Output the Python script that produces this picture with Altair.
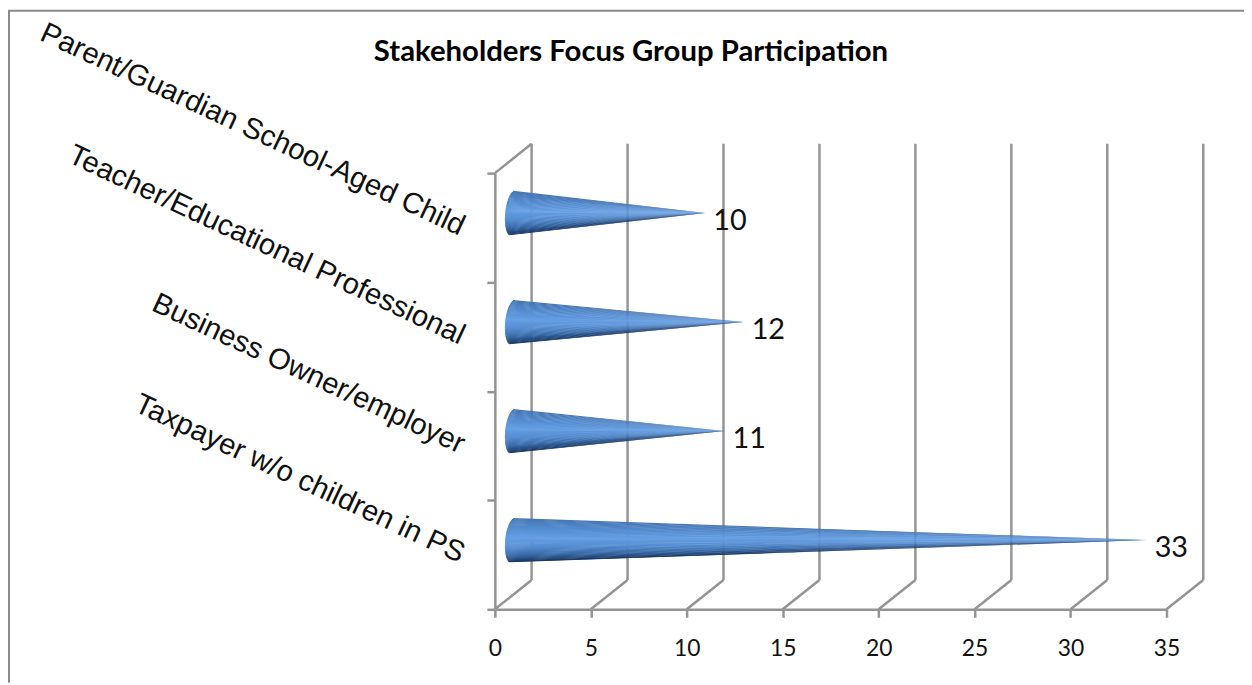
import altair as alt
import pandas as pd

title = "Stakeholders Focus Group Participation"
categories = ["Parent/Guardian School-Aged Child", "Teacher/Educational Professional",
              "Business Owner/employer", "Taxpayer w/o children in PS"]
values = [10, 12, 11, 33]
ticks = [0, 5, 10, 15, 20, 25, 30, 35]
bands = [0, 1, 2, 3, 4]

W, H = 676, 439
PAD_L, PAD_T = 490, 164
TOTAL_W, TOTAL_H = 1244, 677
UX = W / 35
UY = H / 4
DEPTH_X = 37 / UX
DEPTH_Y = 29.5 / UY
CONE_X = DEPTH_X / 2
CONE_Y = DEPTH_Y / 2
GREY = "#949494"

shade = [(-1.0, (70, 118, 178)), (-0.6, (82, 138, 206)), (-0.1, (100, 158, 228)),
         (0.3, (86, 142, 210)), (0.65, (60, 110, 172)), (0.9, (34, 72, 122)), (1.0, (24, 50, 88))]


def colour(f):
    for (a, ca), (b, cb) in zip(shade, shade[1:]):
        if a <= f <= b:
            t = (f - a) / (b - a)
            return "#%02x%02x%02x" % tuple(round(p + (q - p) * t) for p, q in zip(ca, cb))
    return "#18325a"


N = 44
half = 22.3 / UY
rows = []
for i, (cat, v) in enumerate(zip(categories, values)):
    c = 4 - i - 0.5 + CONE_Y
    tip = v + CONE_X
    for k in range(N):
        f1, f2 = -1 + 2 * k / N, -1 + 2 * (k + 1.6) / N
        f2 = min(f2, 1)
        fm = -1 + 2 * (k + 0.5) / N
        start = CONE_X + (-0.5 - 2 * fm - 7.6 * (1 - fm * fm) ** 0.5) / UX
        wid = f"{i}-{k:02d}"
        col = colour(fm)
        # f runs from the top of the cone (-1) to its bottom (+1)
        rows.append(dict(w=wid, col=col, x=start, y=c - half * f1, y2=c - half * f2))
        rows.append(dict(w=wid, col=col, x=tip, y=c, y2=c))
cones = pd.DataFrame(rows)

xs = alt.Scale(domain=[0, 35], nice=False, zero=False)
ys = alt.Scale(domain=[0, 4], nice=False, zero=False)
xaxis = alt.Axis(values=ticks, grid=False, domainColor=GREY, domainWidth=2.5, tickColor=GREY,
                 tickWidth=2.5, tickSize=8, labelFont="Lato", labelFontSize=23, labelColor="#111",
                 labelPadding=20, labelFlush=False, labelOverlap=False, format="d", title=None)
yaxis = alt.Axis(values=bands, grid=False, labels=False, domainColor=GREY, domainWidth=2.5,
                 tickColor=GREY, tickWidth=2.5, tickSize=8, title=None)
X = alt.X("x:Q", scale=xs, axis=xaxis)
Y = alt.Y("y:Q", scale=ys, axis=yaxis)

back = pd.DataFrame({"x": [t + DEPTH_X for t in ticks], "y": [DEPTH_Y] * 8, "y2": [4 + DEPTH_Y] * 8})
back_rules = alt.Chart(back).mark_rule(color=GREY, strokeWidth=2.5).encode(x=X, y=Y, y2="y2:Q")

floor = pd.DataFrame({"x": ticks + [0], "x2": [t + DEPTH_X for t in ticks] + [DEPTH_X],
                      "y": [0] * 8 + [4], "y2": [DEPTH_Y] * 8 + [4 + DEPTH_Y]})
floor_rules = alt.Chart(floor).mark_rule(color=GREY, strokeWidth=2.5).encode(x=X, x2="x2:Q", y=Y, y2="y2:Q")

cone_layer = alt.Chart(cones).mark_area(interpolate="linear", orient="vertical").encode(
    x=X,
    y=alt.Y("y:Q", scale=ys, axis=yaxis, stack=None),
    y2="y2:Q",
    color=alt.Color("col:N", scale=None),
    detail="w:N",
)

val_df = pd.DataFrame({"x": [v + CONE_X for v in values], "y": [4 - i - 0.5 + CONE_Y for i in range(4)],
                       "v": values})
val_text = alt.Chart(val_df).mark_text(font="Lato", fontSize=29, color="#111", dx=25, dy=8).encode(
    x=X, y=Y, text="v:Q")

cat_df = pd.DataFrame({"c": categories, "y": [4 - i - 0.5 for i in range(4)]})
cat_text = alt.Chart(cat_df).mark_text(font="Liberation Sans", fontSize=29.4, color="#111", align="right",
                                       baseline="middle", angle=25, dy=0).encode(
    x=alt.value(-32), y=Y, text="c:N")

frame_df = pd.DataFrame({"k": ["top", "left"]})
frame_top = alt.Chart(frame_df.iloc[:1]).mark_rule(color="#8a8a8a", strokeWidth=2).encode(
    x=alt.value(-PAD_L), x2=alt.value(TOTAL_W - PAD_L), y=alt.value(-PAD_T + 0.5))
frame_left = alt.Chart(frame_df.iloc[1:]).mark_rule(color="#8a8a8a", strokeWidth=2).encode(
    x=alt.value(-PAD_L + 1), y=alt.value(-PAD_T), y2=alt.value(TOTAL_H - PAD_T))

title_df = pd.DataFrame({"t": [title]})
title_text = alt.Chart(title_df).mark_text(font="Lato", fontSize=29.5, fontWeight="bold", color="#000").encode(
    x=alt.value(635 - 498), y=alt.value(50 - 172), text="t:N")

chart = alt.layer(
    back_rules, floor_rules, cone_layer, val_text, cat_text, frame_top, frame_left, title_text
).properties(
    width=W, height=H, autosize="none", background="white",
    padding={"left": PAD_L, "top": PAD_T, "right": TOTAL_W - PAD_L - W, "bottom": TOTAL_H - PAD_T - H},
).configure_view(stroke=None)

chart.save("out.html", embed_options={"renderer": "svg", "actions": False})
